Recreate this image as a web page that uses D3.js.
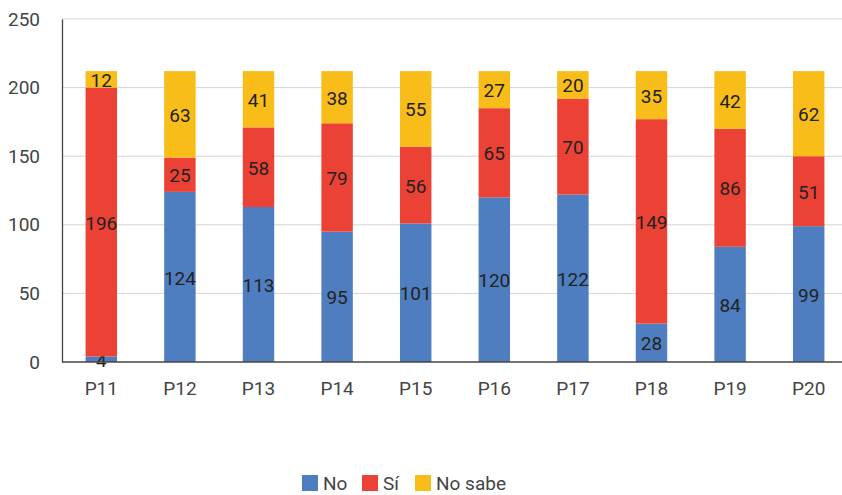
<!DOCTYPE html>
<html>
<head>
<meta charset="utf-8">
<script src="https://cdn.jsdelivr.net/npm/d3@7"></script>
<style>
	body { margin: 0; background: #fff; }
	svg { display: block; font-family: Roboto, "DejaVu Sans", sans-serif; }
</style>
</head>
<body>
<div id="grafic"></div>
<script>
// dades
var preguntes = ['P11', 'P12', 'P13', 'P14', 'P15', 'P16', 'P17', 'P18', 'P19', 'P20'];
var no      = [4, 124, 113, 95, 101, 120, 122, 28, 84, 99];
var si      = [196, 25, 58, 79, 56, 65, 70, 149, 86, 51];
var noSabe  = [12, 63, 41, 38, 55, 27, 20, 35, 42, 62];
var series  = ['No', 'Sí', 'No sabe'];
var marques = [0, 50, 100, 150, 200, 250];

var Amplada = 842, Alçada = 495;
var marge = {dalt: 19, dreta: -6, baix: 133, esquerra: 62};
var mida = 19;

var colors = d3.scaleOrdinal()
	.domain(series)
	.range(['#4F7EC0', '#EC4235', '#F8BD19']);

var files = preguntes.map((p, i) => ({p: p, 'No': no[i], 'Sí': si[i], 'No sabe': noSabe[i]}));
var pila = d3.stack().keys(series)(files);

var x = d3.scaleBand()
	.domain(preguntes)
	.range([marge.esquerra, Amplada - marge.dreta])
	.paddingInner(0.6)
	.paddingOuter(0.3);

var y = d3.scaleLinear()
	.domain([0, 250])
	.range([Alçada - marge.baix, marge.dalt]);

var llenç = d3.select('#grafic')
	.append('svg')
		.attr('width', Amplada)
		.attr('height', Alçada);

// línies de la graella
llenç.append('g')
	.selectAll('line')
	.data(marques.slice(1))
	.enter()
	.append('line')
		.attr('x1', marge.esquerra)
		.attr('x2', Amplada)
		.attr('y1', d => y(d))
		.attr('y2', d => y(d))
		.attr('stroke', '#d4d4d4')
		.attr('stroke-width', 1);

// eix Y
var eixY = llenç.append('g')
	.attr('transform', `translate(${marge.esquerra},0)`)
	.call(d3.axisLeft(y).tickValues(marques).tickSize(0).tickPadding(22));
eixY.select('.domain').attr('stroke', '#444').attr('stroke-width', 1.3);
eixY.selectAll('text')
	.attr('font-size', mida)
	.attr('fill', '#444')
	.attr('font-family', 'Roboto, sans-serif');

// barres
var grups = llenç.append('g')
	.selectAll('g')
	.data(pila)
	.enter()
	.append('g')
		.attr('fill', d => colors(d.key));

grups.selectAll('rect')
	.data(d => d)
	.enter()
	.append('rect')
		.attr('x', d => x(d.data.p))
		.attr('y', d => y(d[1]))
		.attr('width', x.bandwidth())
		.attr('height', d => y(d[0]) - y(d[1]));

// etiquetes
grups.selectAll('text')
	.data(d => d)
	.enter()
	.append('text')
		.attr('x', d => x(d.data.p) + x.bandwidth() / 2)
		.attr('y', d => (y(d[0]) + y(d[1])) / 2)
		.attr('dy', '0.4em')
		.attr('text-anchor', 'middle')
		.attr('font-size', mida)
		.attr('fill', '#222')
		.text(d => d[1] - d[0]);

// eix X
var eixX = llenç.append('g')
	.attr('transform', `translate(0,${y(0)})`)
	.call(d3.axisBottom(x).tickSize(0).tickPadding(20));
eixX.select('.domain').attr('stroke', '#444').attr('stroke-width', 1.3)
	.attr('d', `M${marge.esquerra},0H${Amplada}`);
eixX.selectAll('text')
	.attr('font-size', mida)
	.attr('fill', '#444')
	.attr('font-family', 'Roboto, sans-serif');

// llegenda
var posLlegenda = [302, 362, 415];
var llegenda = llenç.append('g')
	.selectAll('g')
	.data(series)
	.enter()
	.append('g')
		.attr('transform', (d, i) => `translate(${posLlegenda[i]},475)`);
llegenda.append('rect')
	.attr('width', 16)
	.attr('height', 16)
	.attr('fill', d => colors(d));
llegenda.append('text')
	.attr('x', 21)
	.attr('y', 8)
	.attr('dy', '0.36em')
	.attr('font-size', mida)
	.attr('fill', '#444')
	.text(d => d);
</script>
</body>
</html>
